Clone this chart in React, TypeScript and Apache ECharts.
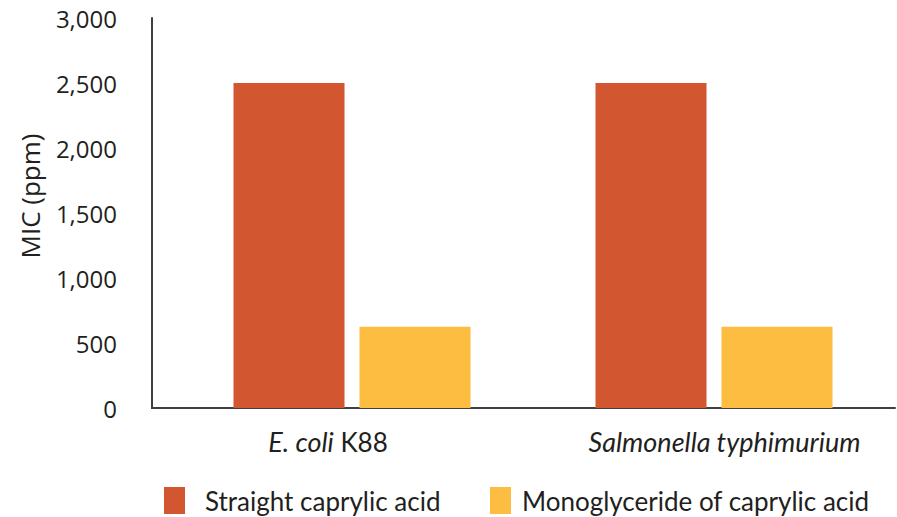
import React, { useEffect, useRef } from "react";
import * as echarts from "echarts";

const categories = ["E. coli K88", "Salmonella typhimurium"];
const seriesNames = ["Straight caprylic acid", "Monoglyceride of caprylic acid"];
const straightData = [2500, 2500];
const monoData = [625, 625];
const yTicks = { min: 0, max: 3000, interval: 500 };
const yAxisTitle = "MIC (ppm)";

const ORANGE = "#D2562F";
const YELLOW = "#FDBD40";
const TEXT = "#231F20";
const AXIS = "#404040";

export default function App() {
  const ref = useRef<HTMLDivElement>(null);
  useEffect(() => {
    if (!ref.current) return;
    const chart = echarts.init(ref.current, null, { renderer: "svg" });
    chart.setOption({
      animation: false,
      backgroundColor: "#ffffff",
      grid: { left: 171, right: 2, top: 18, bottom: 109, containLabel: false },
      legend: [
        {
          data: [seriesNames[0]],
          left: 164,
          top: 487,
          padding: 0,
          itemWidth: 21,
          itemHeight: 27,
          icon: "rect",
          textStyle: { fontFamily: "Lato", fontSize: 26, color: TEXT, padding: [0, 0, 0, 15] },
        },
        {
          data: [seriesNames[1]],
          left: 490,
          top: 487,
          padding: 0,
          itemWidth: 21,
          itemHeight: 27,
          icon: "rect",
          textStyle: { fontFamily: "Lato", fontSize: 26, color: TEXT, padding: [0, 0, 0, 6] },
        },
      ],
      xAxis: {
        type: "category",
        data: categories,
        axisLine: { show: true, lineStyle: { color: AXIS, width: 2 } },
        axisTick: { show: false },
        axisLabel: {
          interval: 0,
          margin: 20,
          fontFamily: "Lato",
          fontSize: 26,
          color: TEXT,
          formatter: (v: string) => {
            if (v === "E. coli K88") return "{i|E. coli} {n|K88}{sr|}";
            return "{sl|}{i|" + v + "}";
          },
          rich: {
            i: { fontFamily: "Lato", fontStyle: "italic", fontSize: 27, color: TEXT },
            n: { fontFamily: "Lato", fontSize: 26, color: TEXT },
            sr: { width: 48 },
            sl: { width: 21 },
          },
        },
      },
      yAxis: {
        type: "value",
        min: yTicks.min,
        max: yTicks.max,
        interval: yTicks.interval,
        offset: 19,
        axisLine: { show: true, lineStyle: { color: AXIS, width: 2 } },
        axisTick: { show: false },
        splitLine: { show: false },
        axisLabel: {
          margin: 35,
          fontFamily: "Open Sans",
          fontSize: 24,
          color: TEXT,
          formatter: (v: number) => v.toLocaleString("en-US"),
        },
      },
      graphic: [
        {
          type: "line",
          shape: { x1: 151, y1: 408, x2: 172, y2: 408 },
          style: { stroke: AXIS, lineWidth: 2 },
        },
        {
          type: "text",
          x: 30,
          y: 196,
          rotation: Math.PI / 2,
          style: {
            text: yAxisTitle,
            fontFamily: "Open Sans",
            fontSize: 26,
            fill: TEXT,
            textAlign: "center",
            textVerticalAlign: "middle",
          },
        },
      ],
      series: [
        {
          name: seriesNames[0],
          type: "bar",
          data: straightData,
          barWidth: 111,
          barGap: "13.5%",
          itemStyle: { color: ORANGE },
        },
        {
          name: seriesNames[1],
          type: "bar",
          data: monoData,
          barWidth: 111,
          barGap: "13.5%",
          itemStyle: { color: YELLOW },
        },
      ],
    });
    return () => chart.dispose();
  }, []);
  return (
    <div
      ref={ref}
      style={{ position: "absolute", left: 0, top: 0, width: 897, height: 517 }}
    />
  );
}
